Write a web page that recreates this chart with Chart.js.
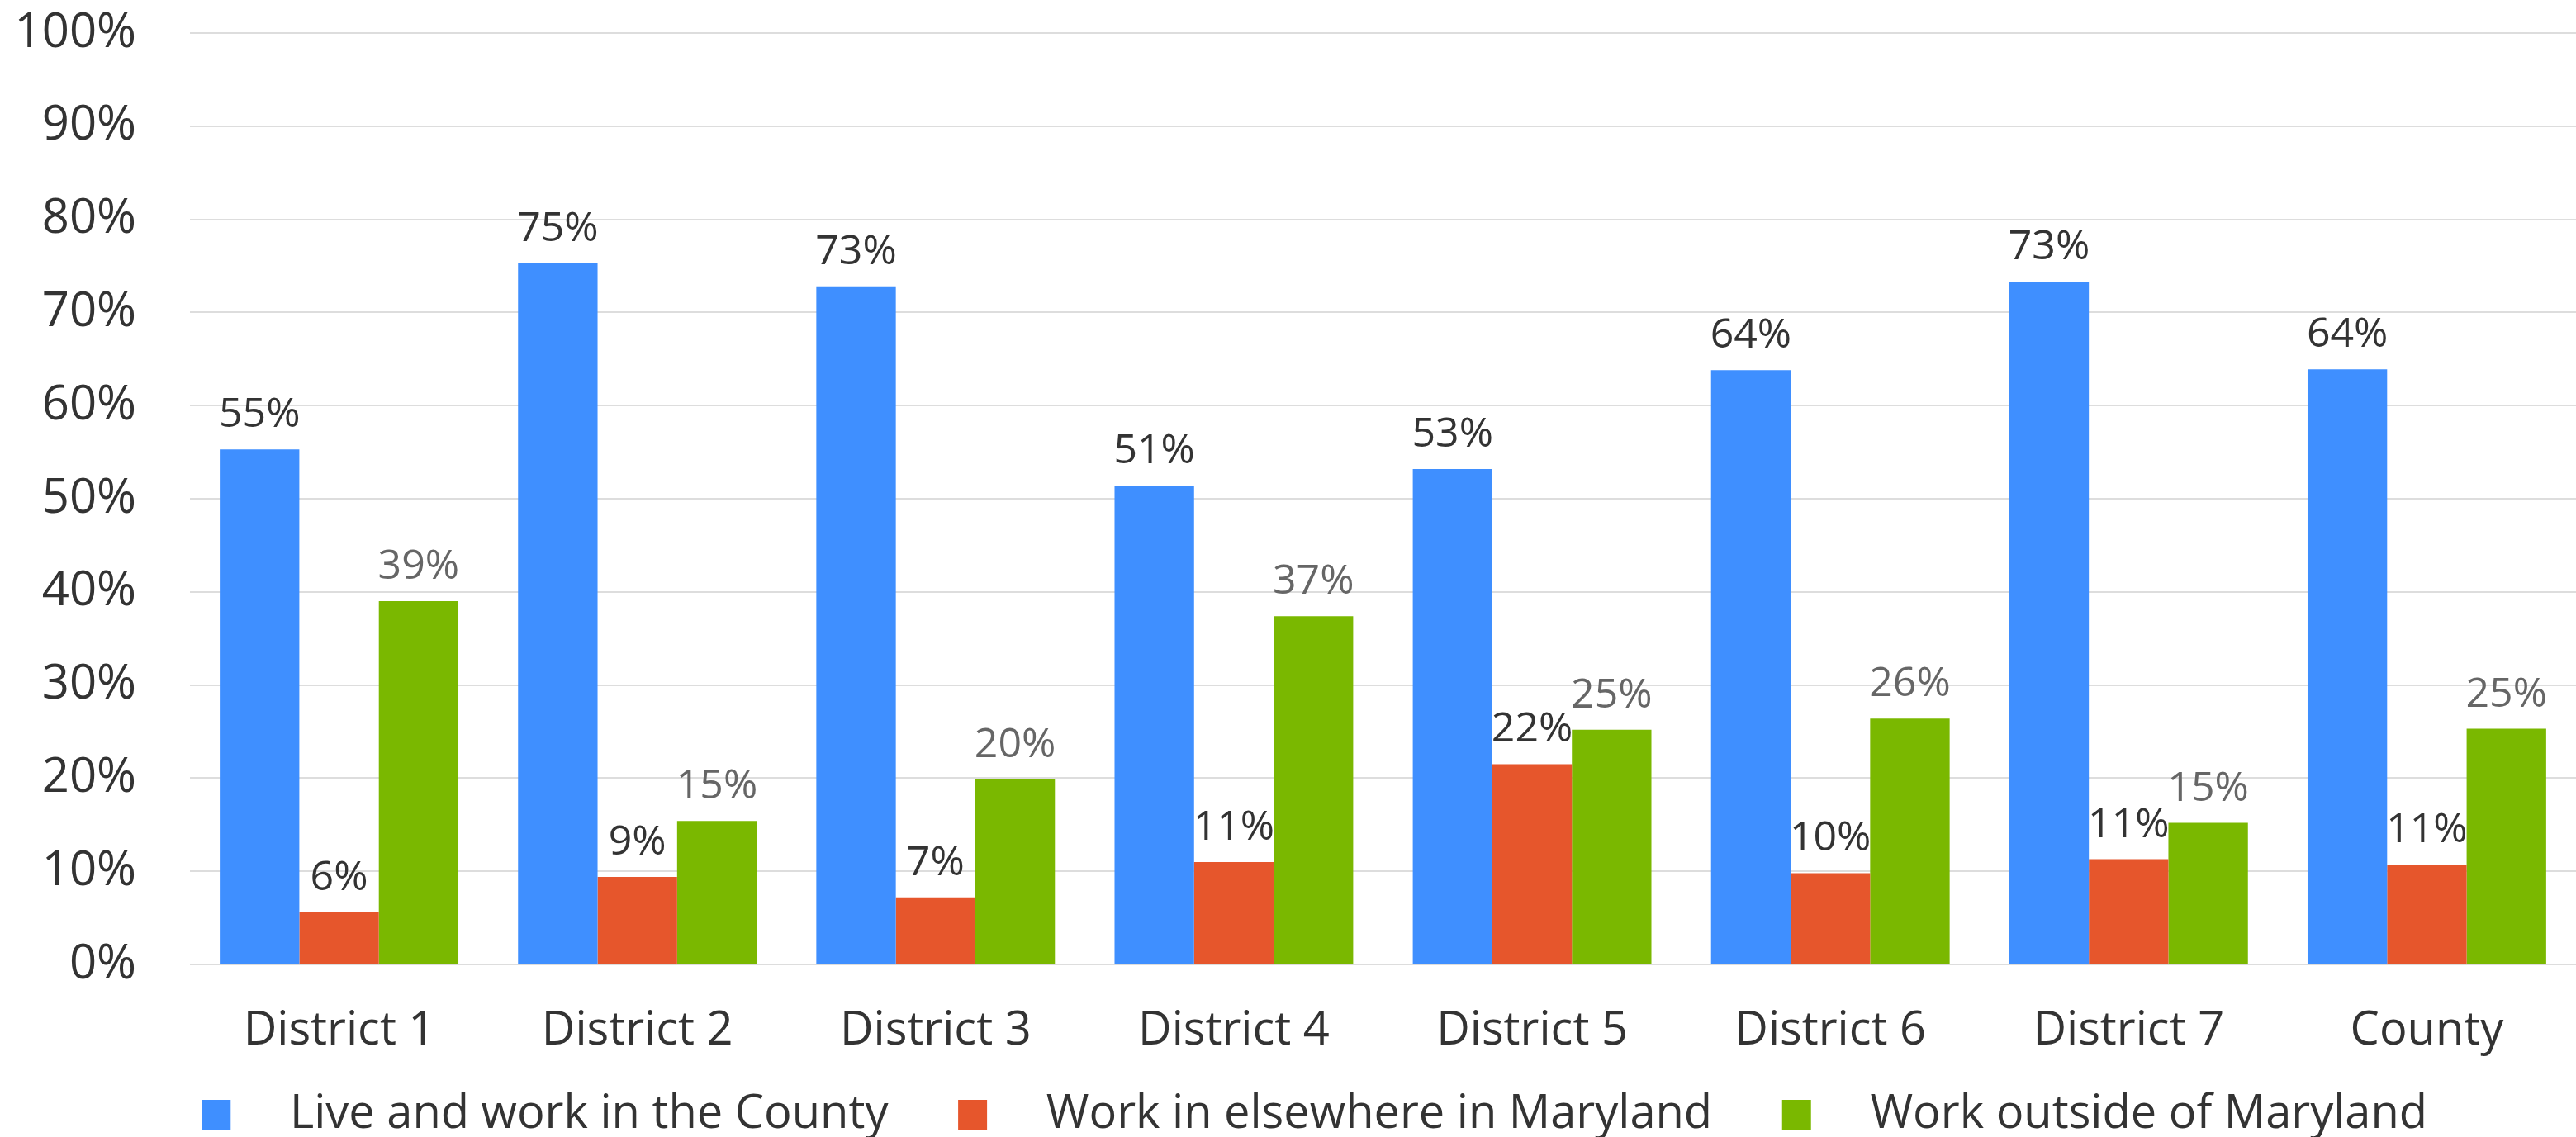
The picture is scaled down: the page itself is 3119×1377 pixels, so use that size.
<!DOCTYPE html>
<html>
<head>
<meta charset="utf-8">
<script src="https://cdn.jsdelivr.net/npm/chart.js@4.4.1/dist/chart.umd.min.js"></script>
<style>
  html, body { margin: 0; padding: 0; background: #ffffff; }
  #wrap { width: 3119px; height: 1377px; }
</style>
</head>
<body>
<div id="wrap"><canvas id="c" width="3119" height="1377"></canvas></div>
<script>
const categories = ["District 1", "District 2", "District 3", "District 4", "District 5", "District 6", "District 7", "County"];
const liveWorkCounty = [55.3, 75.3, 72.8, 51.4, 53.2, 63.8, 73.3, 63.9];
const workElsewhereMD = [5.6, 9.4, 7.2, 11.0, 21.5, 9.8, 11.3, 10.7];
const workOutsideMD = [39.0, 15.4, 19.9, 37.4, 25.2, 26.4, 15.2, 25.3];
const seriesNames = ["Live and work in the County", "Work in elsewhere in Maryland", "Work outside of Maryland"];
const yTicks = [0, 10, 20, 30, 40, 50, 60, 70, 80, 90, 100];

const FONT = "'Open Sans', 'Noto Sans', sans-serif";
const colors = ["#3F8FFF", "#E6562C", "#7AB800"];
const labelColors = ["#333333", "#333333", "#666666"];

const dataLabels = {
  id: 'dataLabels',
  afterDatasetsDraw(chart) {
    const ctx = chart.ctx;
    ctx.save();
    ctx.font = "50px " + FONT;
    ctx.textAlign = 'center';
    ctx.textBaseline = 'alphabetic';
    chart.data.datasets.forEach((ds, i) => {
      const meta = chart.getDatasetMeta(i);
      ctx.fillStyle = labelColors[i];
      meta.data.forEach((bar, j) => {
        ctx.fillText(Math.round(ds.data[j]) + '%', bar.x, bar.y - 27);
      });
    });
    ctx.restore();
  }
};

const legendShift = {
  id: 'legendShift',
  afterLayout(chart) {
    if (chart.legend) { chart.legend.left += 43; chart.legend.right += 43; }
  }
};

new Chart(document.getElementById('c'), {
  type: 'bar',
  data: {
    labels: categories,
    datasets: [
      { label: seriesNames[0], data: liveWorkCounty, backgroundColor: colors[0] },
      { label: seriesNames[1], data: workElsewhereMD, backgroundColor: colors[1] },
      { label: seriesNames[2], data: workOutsideMD, backgroundColor: colors[2] }
    ]
  },
  options: {
    responsive: false,
    devicePixelRatio: 1,
    animation: false,
    layout: { padding: { top: 40, left: 12, right: -10, bottom: -11 } },
    datasets: { bar: { categoryPercentage: 0.8, barPercentage: 1.0 } },
    scales: {
      x: {
        grid: { display: false, drawTicks: false },
        border: { display: false },
        ticks: { color: '#333333', font: { family: FONT, size: 56 }, padding: 47 },
        afterFit(axis) { axis.height = 113; axis.paddingLeft = 0; axis.paddingRight = 0; }
      },
      y: {
        min: 0, max: 100,
        afterBuildTicks(axis) { axis.ticks = yTicks.map(v => ({ value: v })); },
        grid: { color: '#DDDDDD', lineWidth: 2, drawTicks: false },
        border: { display: false },
        ticks: { color: '#333333', font: { family: FONT, size: 58 }, padding: 65, callback: v => v + '%' },
        afterFit(axis) { axis.width = 218; axis.paddingTop = 0; axis.paddingBottom = 0; }
      }
    },
    plugins: {
      tooltip: { enabled: false },
      legend: {
        position: 'bottom',
        labels: {
          color: '#333333',
          font: { family: FONT, size: 56 },
          boxWidth: 35,
          boxHeight: 36,
          padding: 41,
          generateLabels(chart) {
            const items = Chart.defaults.plugins.legend.labels.generateLabels(chart);
            items.forEach(it => { it.text = '   ' + it.text + '   '; it.lineWidth = 0; });
            return items;
          }
        }
      }
    }
  },
  plugins: [dataLabels, legendShift]
});
</script>
</body>
</html>
